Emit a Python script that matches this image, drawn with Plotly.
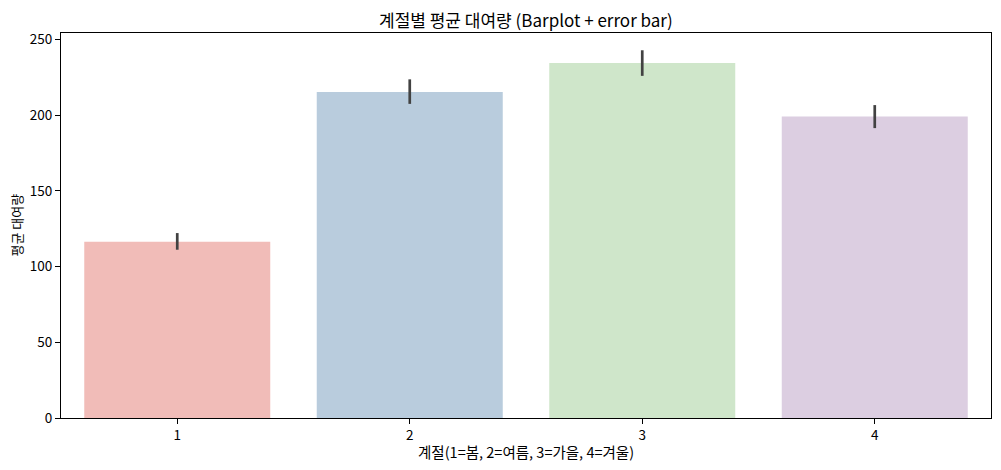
import plotly.graph_objects as go

seasons = [1, 2, 3, 4]
season_labels = ["1", "2", "3", "4"]
mean_rentals = [116.3, 215.3, 234.4, 199.0]
ci_upper = [122.1, 223.6, 242.8, 206.6]
ci_lower = [111.1, 207.4, 225.9, 191.4]
bar_colors = ["#f1bcb8", "#b9ccdd", "#cfe6ca", "#dccee1"]

title_text = "계절별 평균 대여량 (Barplot + error bar)"
x_title = "계절(1=봄, 2=여름, 3=가을, 4=겨울)"
y_title = "평균 대여량"

err_plus = [u - m for u, m in zip(ci_upper, mean_rentals)]
err_minus = [m - l for m, l in zip(mean_rentals, ci_lower)]

FONT = "Noto Sans CJK KR, Malgun Gothic, sans-serif"

fig = go.Figure()
fig.add_trace(go.Bar(
    x=seasons,
    y=mean_rentals,
    width=0.8,
    marker=dict(color=bar_colors, line=dict(width=0)),
    error_y=dict(type="data", symmetric=False, array=err_plus, arrayminus=err_minus,
                 color="#424242", thickness=2.7, width=0),
    showlegend=False,
))

# page body has an 8px default margin; compensate
W, H = 993, 462
L, R, T, B = 53, 10, 25, 52

fig.update_layout(
    width=W, height=H,
    margin=dict(l=L, r=R, t=T, b=B, pad=0),
    paper_bgcolor="white",
    plot_bgcolor="white",
    font=dict(family=FONT, size=13.5, color="black"),
    bargap=0.2,
    xaxis=dict(
        range=[0.5, 4.5],
        tickmode="array", tickvals=seasons, ticktext=season_labels,
        showline=True, linecolor="black", linewidth=1.1, mirror=True,
        ticks="outside", ticklen=5, tickwidth=1, tickcolor="black",
        showgrid=False, zeroline=False,
        tickfont=dict(size=13.5, color="black"),
    ),
    yaxis=dict(
        range=[0, 254.2],
        tickmode="array", tickvals=[0, 50, 100, 150, 200, 250],
        showline=True, linecolor="black", linewidth=1.1, mirror=True,
        ticks="outside", ticklen=5, tickwidth=1, tickcolor="black",
        showgrid=False, zeroline=False,
        tickfont=dict(size=13.5, color="black"),
    ),
    annotations=[
        dict(text=title_text, xref="paper", yref="paper", x=0.5, y=1, yshift=14,
             xanchor="center", yanchor="middle", showarrow=False,
             font=dict(family=FONT, size=17, color="black")),
        dict(text=x_title, xref="paper", yref="paper", x=0.5, y=0, yshift=-33,
             xanchor="center", yanchor="middle", showarrow=False,
             font=dict(family=FONT, size=14.5, color="black")),
        dict(text=y_title, xref="paper", yref="paper", x=0, xshift=-45, y=0.5,
             xanchor="center", yanchor="middle", showarrow=False, textangle=-90,
             font=dict(family=FONT, size=13, color="black")),
    ],
)

fig.write_html("out.html")
